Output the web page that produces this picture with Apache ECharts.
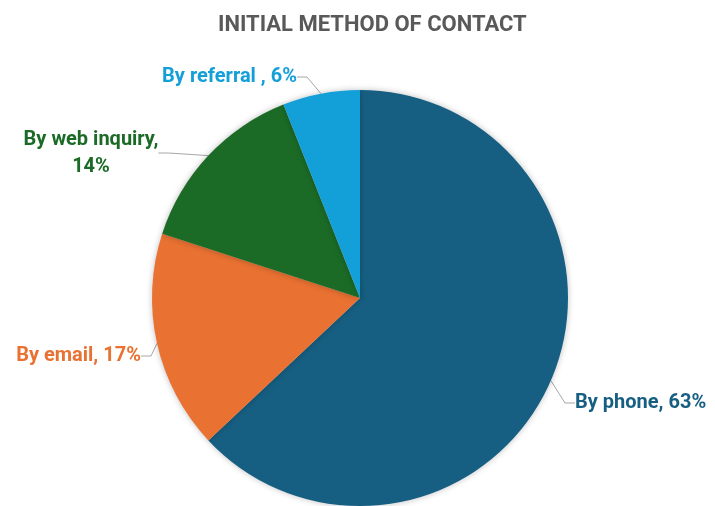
<!DOCTYPE html>
<html>
<head>
<meta charset="utf-8">
<script src="https://cdn.jsdelivr.net/npm/echarts@6/dist/echarts.min.js"></script>
<style>
  html, body { margin: 0; padding: 0; background: #ffffff; }
  #chart { width: 715px; height: 506px; }
</style>
</head>
<body>
<div id="chart"></div>
<script>
// Share of first contact by channel
const categories = ['By phone', 'By email', 'By web inquiry', 'By referral '];
const shares = [63, 17, 14, 6];
const colors = ['#175f82', '#e97132', '#1b6b27', '#139fd8'];

// Where each slice's caption sits: anchor point and text alignment
const labelSpots = [
  { x: 575, y: 403, align: 'left' },
  { x: 141, y: 356, align: 'right' },
  { x: 91, y: 153, align: 'center' },
  { x: 297, y: 77, align: 'right' }
];

const chart = echarts.init(document.getElementById('chart'));

const data = categories.map((name, i) => ({
  name: name,
  value: shares[i],
  itemStyle: { color: colors[i] },
  label: { color: colors[i] }
}));

chart.setOption({
  animation: false,
  title: {
    text: 'INITIAL METHOD OF CONTACT',
    left: 213,
    top: 9,
    textStyle: {
      fontFamily: 'Roboto',
      fontWeight: 'bold',
      fontSize: 22,
      color: '#595959'
    }
  },
  series: [{
    type: 'pie',
    center: [360, 298],
    radius: 208,
    startAngle: 90,
    clockwise: true,
    data: data,
    itemStyle: {
      borderWidth: 0,
      shadowBlur: 6,
      shadowColor: 'rgba(0,0,0,0.25)'
    },
    label: {
      show: true,
      position: 'outside',
      overflow: 'none',
      fontFamily: 'Roboto',
      fontWeight: 'bold',
      fontSize: 20,
      lineHeight: 27,
      formatter: p => p.name === 'By web inquiry'
        ? p.name + ',\n' + p.value + '%'
        : p.name + ', ' + p.value + '%'
    },
    labelLine: {
      show: true,
      length: 12,
      length2: 10,
      lineStyle: { color: '#a6a6a6', width: 1 }
    },
    labelLayout: params => {
      const s = labelSpots[params.dataIndex];
      return { x: s.x, y: s.y, align: s.align, verticalAlign: 'middle' };
    }
  }]
});
</script>
</body>
</html>
